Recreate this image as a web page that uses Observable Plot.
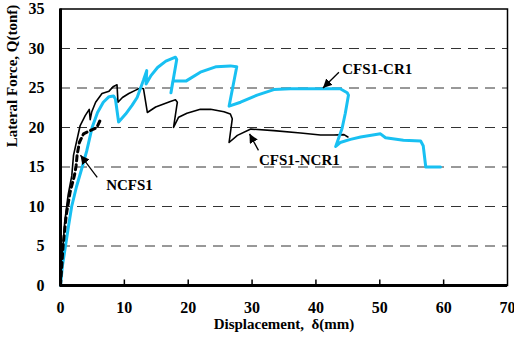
<!DOCTYPE html>
<html><head><meta charset="utf-8">
<script src="https://cdn.jsdelivr.net/npm/d3@7"></script>
<script src="https://cdn.jsdelivr.net/npm/@observablehq/plot@0.6"></script>
<style>body{margin:0;background:#fff}</style>
</head><body><div id="chart"></div>
<script>
const xTicks = [0, 10, 20, 30, 40, 50, 60, 70];
const yTicks = [0, 5, 10, 15, 20, 25, 30, 35];
const gridY = [5, 10, 15, 20, 25, 30];
const innerTicksX = [10, 20, 30, 40, 50, 60];

// CFS1-CR1 (cyan)
const cr1X = [0, 0.3, 0.78, 1.25, 1.75, 2.5, 3.4, 4.1, 4.95, 5.8, 6.7, 7.6, 8.3, 8.6, 9.1, 10.2, 11.2, 12.0, 13.0, 13.5, 13.4, 14.2, 15.2, 16.5, 18.0, 18.2, 17.3, 17.6, 19.7, 21.9, 24.4, 26.6, 27.6, 26.4, 28.2, 30.8, 33.4, 36.0, 43.8, 44.9, 45.1, 44.6, 44.1, 43.1, 43.8, 45.4, 47.0, 50.1, 50.9, 53.7, 56.4, 56.8, 57.2, 59.5];
const cr1Y = [0, 2.5, 5, 7.5, 10, 12.5, 15, 17, 20, 21.9, 23.2, 23.9, 24.0, 23.6, 20.7, 21.7, 22.8, 23.8, 26.0, 27.2, 25.5, 26.6, 27.6, 28.4, 28.9, 28.6, 24.4, 25.9, 25.9, 27.0, 27.7, 27.8, 27.7, 22.7, 23.2, 24.1, 24.8, 24.9, 24.9, 24.4, 24.1, 21.8, 19.9, 17.6, 18.1, 18.5, 18.8, 19.2, 18.7, 18.4, 18.3, 17.7, 15.0, 15.0];

// CFS1-NCR1 (black solid)
const ncr1X = [0, 0.3, 0.65, 1.2, 1.77, 2.04, 3.08, 3.87, 4.5, 4.65, 4.9, 5.5, 6.5, 7.6, 8.3, 8.85, 9.0, 9.7, 10.7, 11.7, 12.5, 13.0, 13.6, 14.9, 17.2, 18.0, 18.3, 17.7, 18.5, 19.8, 21.9, 23.5, 25.6, 26.6, 26.9, 26.4, 27.7, 29.8, 33.4, 37.6, 40.7, 42.8, 44.4, 45.0];
const ncr1Y = [0, 4, 8, 11.5, 13.9, 16.5, 20.25, 21.5, 22.3, 21.0, 22.0, 23.2, 24.3, 24.6, 25.2, 25.4, 23.2, 23.8, 24.3, 24.7, 25.0, 24.9, 21.9, 22.6, 23.3, 23.5, 23.2, 20.0, 21.3, 21.8, 22.3, 22.3, 22.0, 21.7, 21.1, 18.1, 19.0, 19.8, 19.6, 19.3, 19.05, 19.05, 19.1, 18.8];

// NCFS1 (black dashed)
const ncfsX = [0, 0.4, 0.9, 1.5, 2.2, 2.45, 2.6, 2.95, 3.6, 4.65, 5.68, 6.2];
const ncfsY = [0, 5.0, 8.9, 11.8, 14.0, 15.2, 16.5, 18.1, 19.2, 19.6, 20.0, 20.9];

const labelText = ["CFS1-CR1", "CFS1-NCR1", "NCFS1"];
const labelX = [49.6, 37.4, 10.8];
const labelY = [27.4, 15.9, 12.7];
const arrowX1 = [43.6, 31.0, 5.75];
const arrowY1 = [27.0, 17.1, 13.7];
const arrowX2 = [41.1, 29.6, 3.13];
const arrowY2 = [25.0, 19.2, 16.5];

const font = "Liberation Serif, Times New Roman, serif";

const svg = Plot.plot({
  width: 514,
  height: 341,
  marginLeft: 60,
  marginRight: 7,
  marginTop: 8.5,
  marginBottom: 56,
  style: {fontFamily: font, fontWeight: "bold", fontSize: "15px", background: "#fff", color: "#000"},
  x: {domain: [0, 70]},
  y: {domain: [0, 35]},
  marks: [
    Plot.ruleY(gridY, {stroke: "#333", strokeWidth: 1, strokeDasharray: "10,7"}),
    Plot.axisX({ticks: xTicks, tickSize: 0, tickPadding: 16, fontSize: 16, fontWeight: "bold", label: null}),
    Plot.axisY({ticks: yTicks, tickSize: 0, tickPadding: 16, fontSize: 16, fontWeight: "bold", label: null}),
    Plot.ruleX(innerTicksX, {y1: 0, y2: 0.7, stroke: "#000", strokeWidth: 1.5}),
    Plot.line(ncr1X, {x: ncr1X, y: ncr1Y, stroke: "#000", strokeWidth: 1.6}),
    Plot.line(cr1X, {x: cr1X, y: cr1Y, stroke: "#18c0f2", strokeWidth: 3}),
    Plot.line(ncfsX, {x: ncfsX, y: ncfsY, stroke: "#000", strokeWidth: 3, strokeDasharray: "5,4"}),
    Plot.frame({stroke: "#000", strokeWidth: 1.5}),
    Plot.ruleX([0], {stroke: "#000", strokeWidth: 3}),
    Plot.ruleY([0], {stroke: "#000", strokeWidth: 3}),
    Plot.link(labelText, {x1: arrowX1, y1: arrowY1, x2: arrowX2, y2: arrowY2, stroke: "#000", strokeWidth: 1.3, className: "ann-arrow"}),
    Plot.text(labelText, {x: labelX, y: labelY, text: d => d, fontSize: 15, fontWeight: "bold", fill: "#000"}),
    Plot.text(["Displacement,  δ(mm)"], {frameAnchor: "bottom", dy: 43, text: d => d, fontSize: 15, fontWeight: "bold", fill: "#000"}),
    Plot.text(["Lateral Force, Q(tonf)"], {frameAnchor: "left", dx: -48, rotate: -90, text: d => d, fontSize: 15, fontWeight: "bold", fill: "#000"})
  ]
});

const s = d3.select(svg);
const defs = s.append("defs");
defs.append("marker")
  .attr("id", "ah").attr("viewBox", "0 0 10 10").attr("refX", 10).attr("refY", 5)
  .attr("markerWidth", 9).attr("markerHeight", 9).attr("markerUnits", "userSpaceOnUse")
  .attr("orient", "auto")
  .append("path").attr("d", "M0,0L10,5L0,10z").attr("fill", "#000");
s.selectAll(".ann-arrow path").attr("marker-end", "url(#ah)");
s.selectAll("path.ann-arrow, g.ann-arrow path").attr("marker-end", "url(#ah)");

document.getElementById("chart").appendChild(svg);
</script>
</body></html>
